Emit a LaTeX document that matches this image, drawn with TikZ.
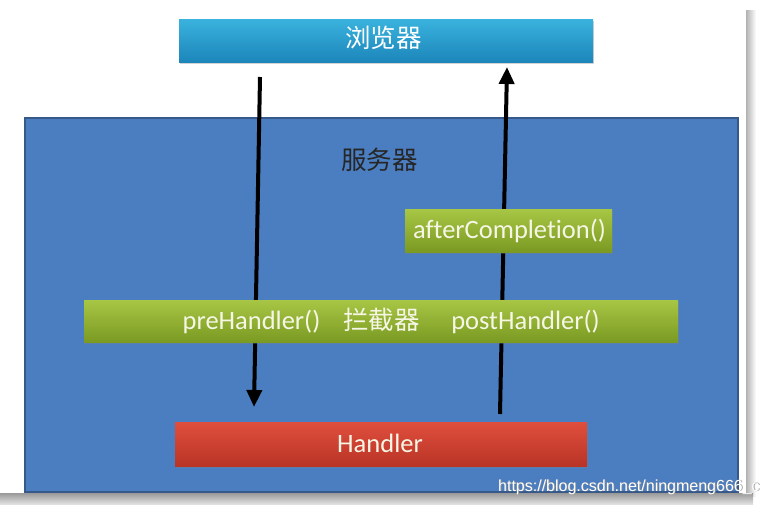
\documentclass[tikz,border=0pt]{standalone}
\usepackage{fontspec}
\setmainfont[Ligatures={NoCommon}]{Carlito}
\newfontfamily\cjk{Noto Sans CJK SC}
\newfontfamily\wmfont{Liberation Sans}
\usetikzlibrary{shadows,arrows.meta}
\definecolor{srvblue}{HTML}{4B7EC0}
\definecolor{srvedge}{HTML}{36598A}
\definecolor{cyantop}{HTML}{3AB2DE}
\definecolor{cyanbot}{HTML}{1C86BA}
\definecolor{greentop}{HTML}{A8C645}
\definecolor{greenbot}{HTML}{7A9A22}
\definecolor{redtop}{HTML}{E04E3D}
\definecolor{redbot}{HTML}{B93426}
\definecolor{cream}{HTML}{F6F6E6}
\tikzset{
  bar/.style={rectangle, inner sep=0pt, draw=none,
    drop shadow={shadow xshift=1pt, shadow yshift=-2pt, opacity=.35}},
  browserbar/.style={bar, top color=cyantop, bottom color=cyanbot},
  greenbar/.style={bar, top color=greentop, bottom color=greenbot},
  redbar/.style={bar, top color=redtop, bottom color=redbot},
  bartext/.style={text=cream, font=\fontsize{26.5}{30}\selectfont, inner sep=0pt},
  cjktext/.style={font=\cjk\fontsize{25.5}{30}\selectfont, inner sep=0pt},
  flow/.style={line width=4pt, -{Triangle[length=17pt,width=15pt]}}
}
\begin{document}
\begin{tikzpicture}[x=1pt,y=-1pt]
\useasboundingbox (0,0) rectangle (768,504);
\fill[white] (0,0) rectangle (768,504);
% slide shadows
\shade[left color=black!30, right color=white] (746,10) rectangle (756,496);
\shade[top color=black!40, bottom color=black!12] (0,493) rectangle (753,504);
\fill[white] (0,0) rectangle (746,493);
% server area
\node[rectangle, fill=srvblue, draw=srvedge, line width=1.6pt,
      minimum width=713pt, minimum height=374pt, inner sep=0pt] (server) at (381.5,305) {};
\node[cjktext, text=black!85] (serverlabel) at (379.5,160) {服务器};
% arrows (behind the bars)
\coordinate (downstart) at (260,77);
\coordinate (downend) at (254,407);
\coordinate (upstart) at (500,414);
\coordinate (upend) at (507,67);
\draw[flow] (downstart) -- (downend);
\draw[flow] (upstart) -- (upend);
% browser
\node[browserbar, minimum width=414pt, minimum height=43pt] (browser) at (386,40.5) {};
\node[cjktext, text=white] (browserlabel) at (383.5,37.5) {浏览器};
% afterCompletion
\node[greenbar, minimum width=207pt, minimum height=43pt] (after) at (508.5,230.5) {};
\node[bartext] (afterlabel) at (509.5,231) {afterCompletion()};
% interceptor
\node[greenbar, minimum width=594pt, minimum height=42pt] (inter) at (381,321) {};
\node[bartext] (prelabel) at (251.5,322) {preHandler()};
\node[cjktext, text=cream] (interlabel) at (381.5,320) {拦截器};
\node[bartext] (postlabel) at (525.5,322) {postHandler()};
% handler
\node[redbar, minimum width=412pt, minimum height=44pt] (handler) at (381,444) {};
\node[bartext] (handlerlabel) at (380,443) {Handler};
% watermark
\node[anchor=base west, inner sep=0pt, text=black!45, font=\wmfont\fontsize{16}{18}\selectfont] (wmshadow) at (498.8,491.8) {https://blog.csdn.net/ningmeng666\_c};
\node[anchor=base west, inner sep=0pt, text=white, font=\wmfont\fontsize{16}{18}\selectfont] (wm) at (498,491) {https://blog.csdn.net/ningmeng666\_c};
\end{tikzpicture}
\end{document}
